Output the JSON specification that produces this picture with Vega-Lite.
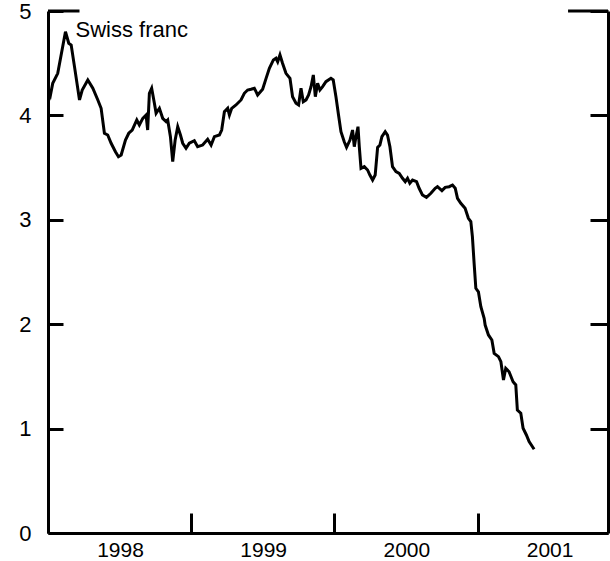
{
  "$schema": "https://vega.github.io/schema/vega-lite/v6.json",
  "width": 560,
  "height": 522,
  "autosize": {"type": "none"},
  "padding": {"left": 48, "top": 11, "right": 2, "bottom": 28},
  "background": "white",
  "config": {
    "view": {"stroke": null},
    "font": "Liberation Sans",
    "axis": {"domainColor": "black", "domainWidth": 3, "tickColor": "black", "tickWidth": 3, "labelColor": "black", "grid": false, "labelFont": "Liberation Sans", "title": null}
  },
  "datasets": {
    "series": [
      {"t": 1998.0, "v": 4.26}, {"t": 1998.017, "v": 4.195}, {"t": 1998.033, "v": 4.307}, {"t": 1998.068, "v": 4.403},
      {"t": 1998.122, "v": 4.802}, {"t": 1998.145, "v": 4.691}, {"t": 1998.162, "v": 4.674}, {"t": 1998.185, "v": 4.467},
      {"t": 1998.22, "v": 4.148}, {"t": 1998.239, "v": 4.243}, {"t": 1998.278, "v": 4.339}, {"t": 1998.313, "v": 4.26},
      {"t": 1998.348, "v": 4.148}, {"t": 1998.371, "v": 4.068}, {"t": 1998.394, "v": 3.829}, {"t": 1998.417, "v": 3.812},
      {"t": 1998.441, "v": 3.733}, {"t": 1998.471, "v": 3.652}, {"t": 1998.492, "v": 3.604}, {"t": 1998.511, "v": 3.621},
      {"t": 1998.541, "v": 3.764}, {"t": 1998.564, "v": 3.829}, {"t": 1998.588, "v": 3.86}, {"t": 1998.62, "v": 3.956},
      {"t": 1998.638, "v": 3.908}, {"t": 1998.662, "v": 3.972}, {"t": 1998.685, "v": 4.004}, {"t": 1998.696, "v": 3.86},
      {"t": 1998.708, "v": 4.212}, {"t": 1998.724, "v": 4.26}, {"t": 1998.743, "v": 4.116}, {"t": 1998.755, "v": 4.02},
      {"t": 1998.778, "v": 4.068}, {"t": 1998.801, "v": 3.972}, {"t": 1998.825, "v": 3.94}, {"t": 1998.836, "v": 3.956},
      {"t": 1998.855, "v": 3.796}, {"t": 1998.871, "v": 3.557}, {"t": 1998.888, "v": 3.764}, {"t": 1998.906, "v": 3.892},
      {"t": 1998.925, "v": 3.812}, {"t": 1998.941, "v": 3.733}, {"t": 1998.964, "v": 3.685}, {"t": 1998.987, "v": 3.733},
      {"t": 1999.022, "v": 3.758}, {"t": 1999.045, "v": 3.7}, {"t": 1999.08, "v": 3.716}, {"t": 1999.115, "v": 3.771},
      {"t": 1999.139, "v": 3.716}, {"t": 1999.162, "v": 3.796}, {"t": 1999.197, "v": 3.812}, {"t": 1999.213, "v": 3.86},
      {"t": 1999.232, "v": 4.035}, {"t": 1999.255, "v": 4.068}, {"t": 1999.267, "v": 4.004}, {"t": 1999.283, "v": 4.068},
      {"t": 1999.313, "v": 4.1}, {"t": 1999.348, "v": 4.148}, {"t": 1999.371, "v": 4.212}, {"t": 1999.394, "v": 4.243},
      {"t": 1999.418, "v": 4.25}, {"t": 1999.441, "v": 4.26}, {"t": 1999.452, "v": 4.23}, {"t": 1999.464, "v": 4.195},
      {"t": 1999.499, "v": 4.25}, {"t": 1999.523, "v": 4.355}, {"t": 1999.546, "v": 4.451}, {"t": 1999.574, "v": 4.531},
      {"t": 1999.592, "v": 4.547}, {"t": 1999.604, "v": 4.514}, {"t": 1999.62, "v": 4.579}, {"t": 1999.638, "v": 4.499},
      {"t": 1999.662, "v": 4.403}, {"t": 1999.69, "v": 4.355}, {"t": 1999.708, "v": 4.179}, {"t": 1999.732, "v": 4.116},
      {"t": 1999.75, "v": 4.1}, {"t": 1999.767, "v": 4.26}, {"t": 1999.783, "v": 4.131}, {"t": 1999.802, "v": 4.148},
      {"t": 1999.82, "v": 4.195}, {"t": 1999.837, "v": 4.275}, {"t": 1999.853, "v": 4.387}, {"t": 1999.867, "v": 4.179},
      {"t": 1999.883, "v": 4.307}, {"t": 1999.899, "v": 4.243}, {"t": 1999.918, "v": 4.275}, {"t": 1999.941, "v": 4.323},
      {"t": 1999.976, "v": 4.355}, {"t": 1999.992, "v": 4.34}, {"t": 2000.011, "v": 4.179}, {"t": 2000.029, "v": 4.004},
      {"t": 2000.046, "v": 3.844}, {"t": 2000.069, "v": 3.748}, {"t": 2000.085, "v": 3.694}, {"t": 2000.109, "v": 3.764},
      {"t": 2000.127, "v": 3.86}, {"t": 2000.139, "v": 3.7}, {"t": 2000.151, "v": 3.796}, {"t": 2000.165, "v": 3.892},
      {"t": 2000.174, "v": 3.7}, {"t": 2000.186, "v": 3.493}, {"t": 2000.209, "v": 3.509}, {"t": 2000.232, "v": 3.477},
      {"t": 2000.248, "v": 3.429}, {"t": 2000.267, "v": 3.381}, {"t": 2000.285, "v": 3.429}, {"t": 2000.302, "v": 3.694},
      {"t": 2000.318, "v": 3.716}, {"t": 2000.332, "v": 3.796}, {"t": 2000.355, "v": 3.844}, {"t": 2000.371, "v": 3.812},
      {"t": 2000.388, "v": 3.7}, {"t": 2000.406, "v": 3.509}, {"t": 2000.43, "v": 3.461}, {"t": 2000.453, "v": 3.445},
      {"t": 2000.476, "v": 3.398}, {"t": 2000.495, "v": 3.365}, {"t": 2000.511, "v": 3.398}, {"t": 2000.527, "v": 3.35},
      {"t": 2000.546, "v": 3.381}, {"t": 2000.574, "v": 3.365}, {"t": 2000.592, "v": 3.302}, {"t": 2000.615, "v": 3.238},
      {"t": 2000.643, "v": 3.215}, {"t": 2000.674, "v": 3.254}, {"t": 2000.704, "v": 3.302}, {"t": 2000.72, "v": 3.317},
      {"t": 2000.751, "v": 3.279}, {"t": 2000.774, "v": 3.311}, {"t": 2000.802, "v": 3.317}, {"t": 2000.825, "v": 3.333},
      {"t": 2000.844, "v": 3.302}, {"t": 2000.86, "v": 3.206}, {"t": 2000.883, "v": 3.158}, {"t": 2000.913, "v": 3.11},
      {"t": 2000.936, "v": 3.014}, {"t": 2000.953, "v": 2.982}, {"t": 2000.964, "v": 2.838}, {"t": 2000.976, "v": 2.583},
      {"t": 2000.988, "v": 2.344}, {"t": 2001.006, "v": 2.311}, {"t": 2001.023, "v": 2.168}, {"t": 2001.046, "v": 2.056},
      {"t": 2001.053, "v": 1.992}, {"t": 2001.076, "v": 1.897}, {"t": 2001.1, "v": 1.849}, {"t": 2001.116, "v": 1.721},
      {"t": 2001.146, "v": 1.689}, {"t": 2001.163, "v": 1.641}, {"t": 2001.181, "v": 1.466}, {"t": 2001.197, "v": 1.578},
      {"t": 2001.22, "v": 1.545}, {"t": 2001.248, "v": 1.449}, {"t": 2001.267, "v": 1.418}, {"t": 2001.278, "v": 1.178},
      {"t": 2001.302, "v": 1.147}, {"t": 2001.318, "v": 1.003}, {"t": 2001.341, "v": 0.939}, {"t": 2001.36, "v": 0.875},
      {"t": 2001.395, "v": 0.802}
    ],
    "frame": [
      {"x": 1998.0, "x2": 1998.22, "y": 5},
      {"x": 2001.632, "x2": 2001.911, "y": 5}
    ],
    "label": [
      {"x": 1998.192, "y": 4.75, "text": "Swiss franc"}
    ]
  },
  "layer": [
    {
      "data": {"name": "series"},
      "mark": {"type": "line", "color": "black", "strokeWidth": 3, "strokeJoin": "miter", "clip": true},
      "encoding": {
        "x": {"field": "t", "type": "quantitative",
          "scale": {"domain": [1998, 2001.911], "nice": false, "zero": false},
          "axis": {"orient": "bottom", "values": [1998, 1999, 2000, 2001], "format": "d", "tickSize": -20, "labelOffset": 72, "labelFlush": false, "labelPadding": 26, "labelFontSize": 21, "labelOverlap": false, "labelBound": false}},
        "y": {"field": "v", "type": "quantitative",
          "scale": {"domain": [0, 5], "nice": false, "zero": true},
          "axis": {"orient": "left", "values": [0, 1, 2, 3, 4, 5], "format": "d", "tickSize": -15, "labelPadding": 32, "labelFontSize": 22}}
      }
    },
    {
      "data": {"name": "frame"},
      "mark": {"type": "rule", "color": "black", "strokeWidth": 3},
      "encoding": {
        "x": {"field": "x", "type": "quantitative", "scale": {"domain": [1998, 2001.911], "nice": false, "zero": false}, "axis": null},
        "x2": {"field": "x2"},
        "y": {"field": "y", "type": "quantitative",
          "scale": {"domain": [0, 5], "nice": false, "zero": true},
          "axis": {"orient": "right", "values": [0, 1, 2, 3, 4, 5], "tickSize": -18, "labels": false}}
      }
    },
    {
      "data": {"name": "label"},
      "mark": {"type": "text", "align": "left", "baseline": "alphabetic", "fontSize": 22, "font": "Liberation Sans", "color": "black"},
      "encoding": {
        "x": {"field": "x", "type": "quantitative", "scale": {"domain": [1998, 2001.911], "nice": false, "zero": false}, "axis": null},
        "y": {"field": "y", "type": "quantitative", "scale": {"domain": [0, 5], "nice": false, "zero": true}, "axis": null},
        "text": {"field": "text"}
      }
    }
  ],
  "resolve": {"axis": {"x": "independent", "y": "independent"}}
}
